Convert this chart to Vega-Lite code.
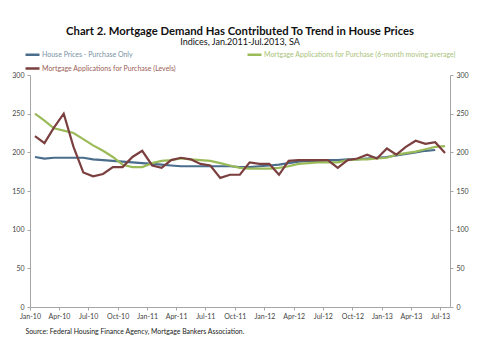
{
  "$schema": "https://vega.github.io/schema/vega-lite/v6.json",
  "width": 420,
  "height": 232,
  "autosize": {"type": "none"},
  "padding": {"left": 30, "top": 75, "right": 30, "bottom": 53},
  "background": "white",
  "title": {
    "text": "Chart 2. Mortgage Demand Has Contributed To Trend in House Prices",
    "subtitle": "Indices, Jan.2011-Jul.2013, SA",
    "font": "Lato",
    "fontSize": 11.3,
    "fontWeight": "bold",
    "color": "#111111",
    "subtitleFont": "Lato",
    "subtitleFontSize": 9,
    "subtitleColor": "#111111",
    "subtitlePadding": 1,
    "anchor": "middle",
    "frame": "group",
    "offset": -1
  },
  "config": {
    "view": {"stroke": null},
    "axis": {
      "labelFont": "Lato",
      "labelFontSize": 7,
      "labelColor": "#444444",
      "domainColor": "#a6a6a6",
      "tickColor": "#a6a6a6",
      "tickSize": 3,
      "grid": false
    }
  },
  "data": {
    "values": [
      {"date": "2010-01-01", "House Prices - Purchase Only": 194, "Mortgage Applications for Purchase (6-month moving average)": 250, "Mortgage Applications for Purchase (Levels)": 221},
      {"date": "2010-02-01", "House Prices - Purchase Only": 192, "Mortgage Applications for Purchase (6-month moving average)": 241, "Mortgage Applications for Purchase (Levels)": 212},
      {"date": "2010-03-01", "House Prices - Purchase Only": 193, "Mortgage Applications for Purchase (6-month moving average)": 231, "Mortgage Applications for Purchase (Levels)": 232},
      {"date": "2010-04-01", "House Prices - Purchase Only": 193, "Mortgage Applications for Purchase (6-month moving average)": 228, "Mortgage Applications for Purchase (Levels)": 250},
      {"date": "2010-05-01", "House Prices - Purchase Only": 193, "Mortgage Applications for Purchase (6-month moving average)": 225, "Mortgage Applications for Purchase (Levels)": 207},
      {"date": "2010-06-01", "House Prices - Purchase Only": 193, "Mortgage Applications for Purchase (6-month moving average)": 217, "Mortgage Applications for Purchase (Levels)": 174},
      {"date": "2010-07-01", "House Prices - Purchase Only": 191, "Mortgage Applications for Purchase (6-month moving average)": 209, "Mortgage Applications for Purchase (Levels)": 169},
      {"date": "2010-08-01", "House Prices - Purchase Only": 190, "Mortgage Applications for Purchase (6-month moving average)": 202, "Mortgage Applications for Purchase (Levels)": 172},
      {"date": "2010-09-01", "House Prices - Purchase Only": 189, "Mortgage Applications for Purchase (6-month moving average)": 194, "Mortgage Applications for Purchase (Levels)": 181},
      {"date": "2010-10-01", "House Prices - Purchase Only": 188, "Mortgage Applications for Purchase (6-month moving average)": 184, "Mortgage Applications for Purchase (Levels)": 181},
      {"date": "2010-11-01", "House Prices - Purchase Only": 187, "Mortgage Applications for Purchase (6-month moving average)": 181, "Mortgage Applications for Purchase (Levels)": 194},
      {"date": "2010-12-01", "House Prices - Purchase Only": 186, "Mortgage Applications for Purchase (6-month moving average)": 181, "Mortgage Applications for Purchase (Levels)": 202},
      {"date": "2011-01-01", "House Prices - Purchase Only": 185, "Mortgage Applications for Purchase (6-month moving average)": 186, "Mortgage Applications for Purchase (Levels)": 183},
      {"date": "2011-02-01", "House Prices - Purchase Only": 184, "Mortgage Applications for Purchase (6-month moving average)": 189, "Mortgage Applications for Purchase (Levels)": 180},
      {"date": "2011-03-01", "House Prices - Purchase Only": 183, "Mortgage Applications for Purchase (6-month moving average)": 190, "Mortgage Applications for Purchase (Levels)": 190},
      {"date": "2011-04-01", "House Prices - Purchase Only": 182, "Mortgage Applications for Purchase (6-month moving average)": 192, "Mortgage Applications for Purchase (Levels)": 193},
      {"date": "2011-05-01", "House Prices - Purchase Only": 182, "Mortgage Applications for Purchase (6-month moving average)": 191, "Mortgage Applications for Purchase (Levels)": 191},
      {"date": "2011-06-01", "House Prices - Purchase Only": 182, "Mortgage Applications for Purchase (6-month moving average)": 190, "Mortgage Applications for Purchase (Levels)": 185},
      {"date": "2011-07-01", "House Prices - Purchase Only": 182, "Mortgage Applications for Purchase (6-month moving average)": 189, "Mortgage Applications for Purchase (Levels)": 183},
      {"date": "2011-08-01", "House Prices - Purchase Only": 182, "Mortgage Applications for Purchase (6-month moving average)": 186, "Mortgage Applications for Purchase (Levels)": 167},
      {"date": "2011-09-01", "House Prices - Purchase Only": 182, "Mortgage Applications for Purchase (6-month moving average)": 183, "Mortgage Applications for Purchase (Levels)": 171},
      {"date": "2011-10-01", "House Prices - Purchase Only": 181, "Mortgage Applications for Purchase (6-month moving average)": 180, "Mortgage Applications for Purchase (Levels)": 171},
      {"date": "2011-11-01", "House Prices - Purchase Only": 181, "Mortgage Applications for Purchase (6-month moving average)": 179, "Mortgage Applications for Purchase (Levels)": 187},
      {"date": "2011-12-01", "House Prices - Purchase Only": 182, "Mortgage Applications for Purchase (6-month moving average)": 179, "Mortgage Applications for Purchase (Levels)": 185},
      {"date": "2012-01-01", "House Prices - Purchase Only": 183, "Mortgage Applications for Purchase (6-month moving average)": 179, "Mortgage Applications for Purchase (Levels)": 185},
      {"date": "2012-02-01", "House Prices - Purchase Only": 184, "Mortgage Applications for Purchase (6-month moving average)": 180, "Mortgage Applications for Purchase (Levels)": 171},
      {"date": "2012-03-01", "House Prices - Purchase Only": 186, "Mortgage Applications for Purchase (6-month moving average)": 182, "Mortgage Applications for Purchase (Levels)": 189},
      {"date": "2012-04-01", "House Prices - Purchase Only": 188, "Mortgage Applications for Purchase (6-month moving average)": 185, "Mortgage Applications for Purchase (Levels)": 190},
      {"date": "2012-05-01", "House Prices - Purchase Only": 189, "Mortgage Applications for Purchase (6-month moving average)": 186, "Mortgage Applications for Purchase (Levels)": 190},
      {"date": "2012-06-01", "House Prices - Purchase Only": 189, "Mortgage Applications for Purchase (6-month moving average)": 187, "Mortgage Applications for Purchase (Levels)": 190},
      {"date": "2012-07-01", "House Prices - Purchase Only": 190, "Mortgage Applications for Purchase (6-month moving average)": 187, "Mortgage Applications for Purchase (Levels)": 190},
      {"date": "2012-08-01", "House Prices - Purchase Only": 190, "Mortgage Applications for Purchase (6-month moving average)": 187, "Mortgage Applications for Purchase (Levels)": 180},
      {"date": "2012-09-01", "House Prices - Purchase Only": 191, "Mortgage Applications for Purchase (6-month moving average)": 190, "Mortgage Applications for Purchase (Levels)": 190},
      {"date": "2012-10-01", "House Prices - Purchase Only": 191, "Mortgage Applications for Purchase (6-month moving average)": 191, "Mortgage Applications for Purchase (Levels)": 192},
      {"date": "2012-11-01", "House Prices - Purchase Only": 192, "Mortgage Applications for Purchase (6-month moving average)": 191, "Mortgage Applications for Purchase (Levels)": 197},
      {"date": "2012-12-01", "House Prices - Purchase Only": 193, "Mortgage Applications for Purchase (6-month moving average)": 192, "Mortgage Applications for Purchase (Levels)": 192},
      {"date": "2013-01-01", "House Prices - Purchase Only": 194, "Mortgage Applications for Purchase (6-month moving average)": 193, "Mortgage Applications for Purchase (Levels)": 205},
      {"date": "2013-02-01", "House Prices - Purchase Only": 196, "Mortgage Applications for Purchase (6-month moving average)": 197, "Mortgage Applications for Purchase (Levels)": 197},
      {"date": "2013-03-01", "House Prices - Purchase Only": 198, "Mortgage Applications for Purchase (6-month moving average)": 199, "Mortgage Applications for Purchase (Levels)": 207},
      {"date": "2013-04-01", "House Prices - Purchase Only": 200, "Mortgage Applications for Purchase (6-month moving average)": 201, "Mortgage Applications for Purchase (Levels)": 215},
      {"date": "2013-05-01", "House Prices - Purchase Only": 202, "Mortgage Applications for Purchase (6-month moving average)": 204, "Mortgage Applications for Purchase (Levels)": 211},
      {"date": "2013-06-01", "House Prices - Purchase Only": 203, "Mortgage Applications for Purchase (6-month moving average)": 207, "Mortgage Applications for Purchase (Levels)": 213},
      {"date": "2013-07-01", "Mortgage Applications for Purchase (6-month moving average)": 208, "Mortgage Applications for Purchase (Levels)": 199}
    ]
  },
  "transform": [
    {"fold": ["House Prices - Purchase Only", "Mortgage Applications for Purchase (6-month moving average)", "Mortgage Applications for Purchase (Levels)"], "as": ["series", "value"]}
  ],
  "encoding": {
    "x": {
      "field": "date",
      "timeUnit": "utcyearmonth",
      "type": "temporal",
      "bandPosition": 0.5,
      "scale": {
        "domain": [{"year": 2010, "month": 1, "date": 1, "utc": true}, {"year": 2013, "month": 8, "date": 1, "utc": true}],
        "nice": false
      },
      "axis": {
        "format": "%b-%y",
        "tickCount": {"interval": "month", "step": 3},
        "labelPadding": 2,
        "labelFlush": false,
        "title": "Source: Federal Housing Finance Agency, Mortgage Bankers Association.",
        "titleFont": "Lato",
        "titleFontSize": 6.9,
        "titleFontWeight": "normal",
        "titleColor": "#222222",
        "titleAnchor": "start",
        "titleAlign": "left",
        "titleBaseline": "alphabetic",
        "titleX": -5,
        "titleY": 26
      }
    },
    "y": {
      "field": "value",
      "type": "quantitative",
      "scale": {"domain": [0, 300], "nice": false},
      "axis": {"values": [0, 50, 100, 150, 200, 250, 300], "title": null, "labelPadding": 3, "orient": "left"}
    }
  },
  "layer": [
    {
      "mark": {"type": "line", "strokeWidth": 2.2},
      "encoding": {
        "color": {
          "field": "series",
          "type": "nominal",
          "scale": {
            "domain": ["House Prices - Purchase Only", "Mortgage Applications for Purchase (6-month moving average)", "Mortgage Applications for Purchase (Levels)"],
            "range": ["#4a6d8c", "#9bbb59", "#7b3f3f"]
          },
          "legend": {
            "orient": "none",
            "legendX": -6,
            "legendY": -29,
            "direction": "horizontal",
            "columns": 2,
            "columnPadding": 65,
            "rowPadding": 0,
            "title": null,
            "symbolType": "stroke",
            "symbolSize": 196,
            "symbolStrokeWidth": 2.5,
            "labelFont": "Lato",
            "labelFontSize": 7,
            "labelFontWeight": "normal",
            "labelOffset": 1,
            "labelLimit": 300,
            "labelColor": {"expr": "datum.label == 'House Prices - Purchase Only' ? '#7890a5' : (datum.label == 'Mortgage Applications for Purchase (Levels)' ? '#9a5e58' : '#a9c27a')"}
          }
        }
      }
    },
    {
      "mark": {"type": "line", "opacity": 0},
      "encoding": {
        "detail": {"field": "series", "type": "nominal"},
        "y": {
          "field": "value",
          "type": "quantitative",
          "scale": {"domain": [0, 300], "nice": false},
          "axis": {"values": [0, 50, 100, 150, 200, 250, 300], "title": null, "labelPadding": 3, "orient": "right"}
        }
      }
    }
  ],
  "resolve": {"axis": {"y": "independent"}}
}
